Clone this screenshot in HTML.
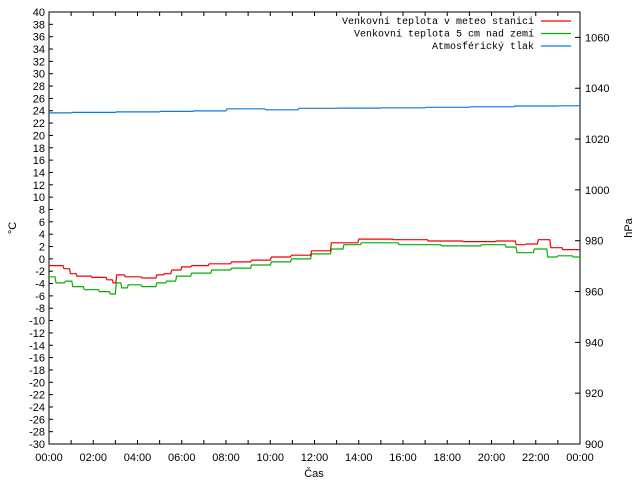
<!DOCTYPE html>
<html><head><meta charset="utf-8"><style>
body{margin:0;background:#fff}
svg{display:block}
text{font-family:"Liberation Sans",sans-serif;font-size:11px;fill:#000}
.m{font-family:"Liberation Mono",monospace;font-size:10px}
</style></head><body>
<svg id="c" width="640" height="480" xmlns="http://www.w3.org/2000/svg"></svg>
<script>
const hoursRed=[0,0.4,0.86,1,1.44,2.35,2.8,2.93,3.11,3.7,4.6,5.05,5.28,5.73,6.18,6.63,7.76,8.66,9.56,10.46,11.37,12.27,13.17,14.75,16.3,17.9,19.5,20.84,21.3,21.74,22.4,22.87,23.5,24];
const valsRed=[-1.1,-1.1,-1.6,-2.4,-2.8,-3,-3.4,-3.9,-2.6,-2.9,-3.1,-2.6,-2.4,-1.8,-1.3,-1.1,-0.8,-0.5,-0.2,0.3,0.6,1.3,2.6,3.2,3.1,2.9,2.8,2.9,2.3,2.4,3.1,1.8,1.5,1.5];
const hoursGreen=[0,0.54,0.86,1.2,1.9,2.57,2.89,3.11,3.38,3.7,4.6,5.05,5.5,5.95,6.86,7.76,8.66,9.56,10.46,11.37,12.27,13.17,13.4,14.75,16.8,18.6,20.4,20.84,21.38,22.4,22.6,23.3,24];
const valsGreen=[-2.9,-3.9,-3.6,-4.5,-5,-5.3,-5.7,-3.9,-4.7,-4.2,-4.5,-3.9,-3.6,-2.8,-2.3,-1.8,-1.5,-1,-0.5,0,0.8,1.6,2.3,2.6,2.3,2.1,2.3,1.9,1.0,1.6,0.3,0.5,0.3];
const hoursBlue=[0,2,4,6,7,9,10.5,12,14,16,18,20,22,24];
const valsBlue=[1030.3,1030.5,1030.7,1030.9,1031.1,1031.9,1031.5,1032.1,1032.2,1032.3,1032.5,1032.7,1033,1033.1];
const yTicks=[];for(let v=40;v>=-30;v-=2)yTicks.push(v);
const y2Ticks=[900,920,940,960,980,1000,1020,1040,1060];
const xLabels=["00:00","02:00","04:00","06:00","08:00","10:00","12:00","14:00","16:00","18:00","20:00","22:00","00:00"];
const L=49,R=580,T=12,B=444,NS="http://www.w3.org/2000/svg",svg=document.getElementById('c');
const X=h=>L+(R-L)*h/24, Y=v=>T+(40-v)*(B-T)/70, Y2=p=>B-(p-900)*(B-T)/170;
function el(t,a,p){const e=document.createElementNS(NS,t);for(const k in a)e.setAttribute(k,a[k]);(p||svg).appendChild(e);return e;}
function txt(s,x,y,anchor,cls,name){const e=el('text',{x:x,y:y,'text-anchor':anchor});if(cls)e.setAttribute('class',cls);e.textContent=s;

return e;}
yTicks.forEach(v=>{const y=Y(v);const t=el('path',{d:`M${L} ${y}h4`,stroke:'#000','stroke-width':1});


txt(String(v),L-4,y+4,'end',null,'y-tick-label');});
y2Ticks.forEach(v=>{const y=Y2(v);const t=el('path',{d:`M${R} ${y}h-5`,stroke:'#000'});


txt(String(v),R+5,y+4,'start',null,'y2-tick-label');});
for(let h=0;h<=24;h++){const x=X(h);const t=el('path',{d:`M${x} ${B}v-4M${x} ${T}v4`,stroke:'#000'});

}
xLabels.forEach((s,i)=>txt(s,X(i*2),461,'middle',null,'x-tick-label'));
const fr=el('rect',{x:L,y:T,width:R-L,height:B-T,fill:'none',stroke:'#000'});


function line(hs,vs,f,col,name){let d='';hs.forEach((h,i)=>{const x=X(h).toFixed(1),y=f(vs[i]).toFixed(1);
if(i===0)d+='M'+x+' '+y;else{const px=X(hs[i-1]).toFixed(1);d+='L'+((+px+ +x)/2).toFixed(1)+' '+f(vs[i-1]).toFixed(1)+'L'+((+px+ +x)/2+1).toFixed(1)+' '+y+'L'+x+' '+y;}});
const p=el('path',{d:d,fill:'none',stroke:col,'stroke-width':1.2});

}
line(hoursBlue,valsBlue,Y2,'#0a7ae0','series-pressure');
line(hoursGreen,valsGreen,Y,'#00b000','series-temp-5cm');
line(hoursRed,valsRed,Y,'#f00000','series-temp-station');
const leg=[["Venkovní teplota v meteo stanici","#f00000"],["Venkovní teplota 5 cm nad zemí","#00b000"],["Atmosférický tlak","#0a7ae0"]];
leg.forEach((l,i)=>{const y=21+i*12.5;txt(l[0],534,y+3,'end','m','legend-label');
const s=el('path',{d:`M541 ${y}h30`,stroke:l[1],'stroke-width':1.2});

});
const a=txt('°C',0,0,'middle',null,'y-axis-title');a.setAttribute('transform','translate(16,228) rotate(-90)');
const b=txt('hPa',0,0,'middle',null,'y2-axis-title');b.setAttribute('transform','translate(632,228) rotate(-90)');
txt('Čas',314,477,'middle',null,'x-axis-title');
</script>
</body></html>
